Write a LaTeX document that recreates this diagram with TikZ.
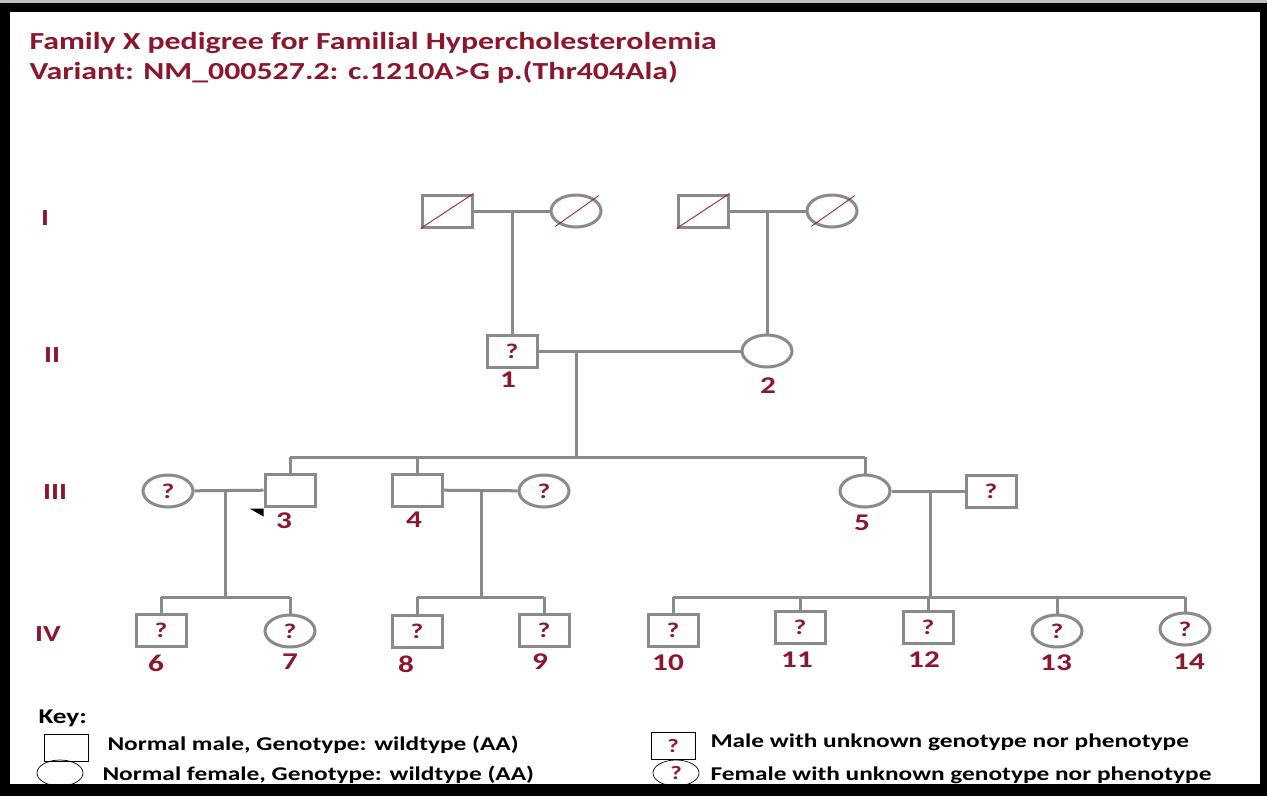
\documentclass[tikz,border=0pt]{standalone}
\usepackage{fontspec}
\setmainfont{Carlito}[FakeStretch=1.3]
\usetikzlibrary{shapes.geometric}
\definecolor{pedred}{RGB}{140,22,45}
\definecolor{pedgray}{RGB}{138,138,138}
\begin{document}
\begin{tikzpicture}[x=1pt,y=-1pt,
  line/.style={draw=pedgray, line width=3pt},
  male/.style={rectangle, draw=pedgray, line width=3pt, fill=white, minimum width=50pt, minimum height=32pt, inner sep=0pt, text=pedred, font=\bfseries\fontsize{21}{21}\selectfont},
  female/.style={ellipse, draw=pedgray, line width=3pt, fill=white, minimum width=50pt, minimum height=32pt, inner sep=0pt, text=pedred, font=\bfseries\fontsize{21}{21}\selectfont},
  slash/.style={draw=pedred, line width=0.8pt},
  num/.style={text=pedred, font=\bfseries\fontsize{24}{24}\selectfont},
  gen/.style={text=pedred, font=\bfseries\fontsize{23}{23}\selectfont},
  keymale/.style={rectangle, draw=black, line width=0.7pt, minimum width=44pt, minimum height=27pt, inner sep=0pt, text=pedred, font=\bfseries\fontsize{19}{19}\selectfont},
  keyfemale/.style={ellipse, draw=black, line width=0.7pt, minimum width=46pt, minimum height=26pt, inner sep=0pt, text=pedred, font=\bfseries\fontsize{19}{19}\selectfont},
  keytext/.style={anchor=west, font=\bfseries\fontsize{19.5}{19.5}\selectfont}]
\useasboundingbox (0,0) rectangle (1267,796);
% frame
\fill[black] (0,0) rectangle (1267,796);
\fill[gray!50] (0,0) rectangle (1267,3);
\fill[white] (10,12) rectangle (1260,784);
% title
\node[anchor=west, text=pedred, font=\bfseries\fontsize{24.5}{24.5}\selectfont] (title1) at (26,43) {Family X pedigree for Familial Hypercholesterolemia};
\node[anchor=west, text=pedred, font=\bfseries\fontsize{24.5}{24.5}\selectfont] (title2) at (26,72) {Variant: NM\_000527.2: c.1210A>G p.(Thr404Ala)};
% generations
\node[gen] (g1) at (45,218) {I};
\node[gen] (g2) at (52,355) {II};
\node[gen] (g3) at (55,492) {III};
\node[gen] (g4) at (48,634) {IV};

% generation I
\node[male] (m1) at (447,211) {};
\node[female] (f1) at (576,211) {};
\node[male] (m2) at (703,211) {};
\node[female] (f2) at (832,211) {};
\draw[slash] (m1.south west) -- (m1.north east);
\draw[slash] (m2.south west) -- (m2.north east);
\draw[slash] ([shift={(-2,3)}]f1.south west) -- ([shift={(4,-3)}]f1.north east);
\draw[slash] ([shift={(-2,3)}]f2.south west) -- ([shift={(4,-3)}]f2.north east);
\draw[line] (m1) -- (f1);
\draw[line] (m2) -- (f2);
\coordinate (u1) at (512,211);
\coordinate (u2) at (767,211);

% generation II
\node[male] (p1) at (512,351) {?};
\node[female] (p2) at (767,351) {};
\node[num] (n1) at (508,380) {1};
\node[num] (n2) at (768,386) {2};
\draw[line] (u1) -- (p1);
\draw[line] (u2) -- (p2);
\draw[line] (p1) -- (p2);
\coordinate (u3) at (576,351);
\coordinate (s3) at (576,457);
\draw[line] (u3) -- (s3);

% generation III
\node[female] (w3) at (168,491) {?};
\node[male] (c3) at (290,490) {};
\node[male] (c4) at (417,490) {};
\node[female] (w4) at (544,491) {?};
\node[female] (c5) at (865,491) {};
\node[male] (h5) at (991,491) {?};
\node[num] (n3) at (284,521) {3};
\node[num] (n4) at (414,520) {4};
\node[num] (n5) at (862,523) {5};
\fill[black] ([shift={(-14,1)}]c3.south west) -- ([shift={(0,1)}]c3.south west) -- ([shift={(0,9)}]c3.south west) -- cycle;
\draw[line] (c3.north |- s3) -- (c5.north |- s3);
\draw[line] (c3.north |- s3) -- (c3.north);
\draw[line] (c4.north |- s3) -- (c4.north);
\draw[line] (c5.north |- s3) -- (c5.north);
\draw[line] (w3) -- (c3);
\draw[line] (c4) -- (w4);
\draw[line] (c5) -- (h5);
\coordinate (u4) at (225,491);
\coordinate (u5) at (481,491);
\coordinate (u6) at (930,491);
\coordinate (s4) at (225,597);
\coordinate (s5) at (481,597);
\coordinate (s6) at (930,597);
\draw[line] (u4) -- (s4);
\draw[line] (u5) -- (s5);
\draw[line] (u6) -- (s6);

% generation IV
\node[male] (k6) at (161,630) {?};
\node[female] (k7) at (290,631) {?};
\node[male] (k8) at (417,631) {?};
\node[male] (k9) at (544,630) {?};
\node[male] (k10) at (673,630) {?};
\node[male] (k11) at (800,627) {?};
\node[male] (k12) at (928,627) {?};
\node[female] (k13) at (1057,631) {?};
\node[female] (k14) at (1185,629) {?};
\node[num] (n6) at (156,663) {6};
\node[num] (n7) at (290,662) {7};
\node[num] (n8) at (406,664) {8};
\node[num] (n9) at (540,662) {9};
\node[num] (n10) at (668,663) {10};
\node[num] (n11) at (797,660) {11};
\node[num] (n12) at (924,660) {12};
\node[num] (n13) at (1056,663) {13};
\node[num] (n14) at (1189,662) {14};
\draw[line] (k6.north |- s4) -- (k7.north |- s4);
\draw[line] (k6.north |- s4) -- (k6.north);
\draw[line] (k7.north |- s4) -- (k7.north);
\draw[line] (k8.north |- s5) -- (k9.north |- s5);
\draw[line] (k8.north |- s5) -- (k8.north);
\draw[line] (k9.north |- s5) -- (k9.north);
\draw[line] (k10.north |- s6) -- (k14.north |- s6);
\foreach \k in {k10,k11,k12,k13,k14}
  \draw[line] (\k.north |- s6) -- (\k.north);

% key
\node[anchor=west, font=\bfseries\fontsize{21}{21}\selectfont] (key) at (35,718) {Key:};
\node[keymale] (km) at (66,748) {};
\node[keyfemale] (kf) at (60,773) {};
\node[keymale] (kmq) at (673,746) {?};
\node[keyfemale] (kfq) at (676,773) {?};
\node[keytext] (t1) at (104,745) {Normal male, Genotype: wildtype (AA)};
\node[keytext] (t2) at (99,775) {Normal female, Genotype: wildtype (AA)};
\node[keytext] (t3) at (707,742) {Male with unknown genotype nor phenotype};
\node[keytext] (t4) at (707,775) {Female with unknown genotype nor phenotype};
\end{tikzpicture}
\end{document}
